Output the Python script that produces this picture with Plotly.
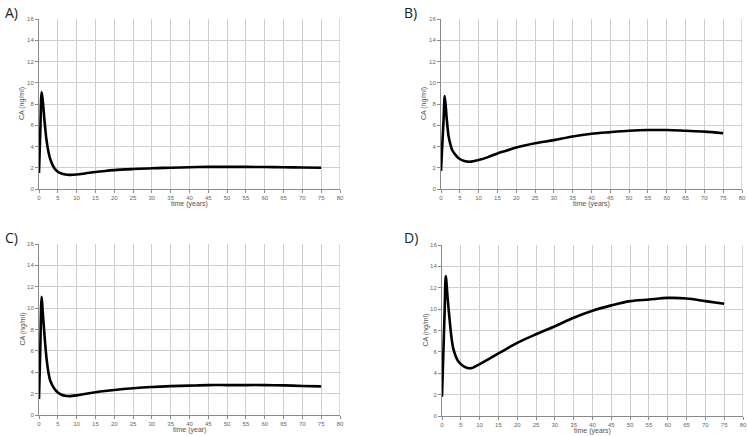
import plotly.graph_objects as go

t = [0, 0.35, 0.7, 1.0, 1.5, 2, 2.5, 3, 4, 5, 6, 7, 8, 10, 12.5, 15, 17.5, 20, 25, 30, 35, 40, 45, 50, 55, 60, 65, 70, 75]
ca_a = [1.5, 5.5, 9.1, 8.3, 6.3, 4.6, 3.5, 2.8, 2.0, 1.63, 1.45, 1.37, 1.33, 1.36, 1.48, 1.6, 1.7, 1.78, 1.88, 1.96, 2.0, 2.05, 2.08, 2.08, 2.08, 2.07, 2.05, 2.02, 2.0]
ca_b = [1.7, 4.2, 6.6, 8.75, 6.7, 5.0, 4.2, 3.65, 3.15, 2.82, 2.65, 2.58, 2.58, 2.72, 3.0, 3.35, 3.62, 3.9, 4.3, 4.6, 4.95, 5.2, 5.35, 5.48, 5.55, 5.55, 5.48, 5.4, 5.25]
ca_c = [1.5, 6.3, 11.05, 9.6, 7.3, 5.3, 4.0, 3.2, 2.5, 2.1, 1.9, 1.8, 1.77, 1.84, 1.98, 2.12, 2.24, 2.34, 2.5, 2.62, 2.7, 2.75, 2.8, 2.8, 2.8, 2.8, 2.77, 2.72, 2.68]
ca_d = [1.8, 5.8, 9.8, 13.1, 11.0, 9.1, 7.4, 6.3, 5.3, 4.85, 4.6, 4.47, 4.5, 4.85, 5.35, 5.85, 6.35, 6.85, 7.65, 8.4, 9.2, 9.85, 10.35, 10.75, 10.9, 11.05, 11.0, 10.75, 10.5]

x_ticks = list(range(0, 81, 5))
y_ticks = list(range(0, 17, 2))

panels = [
    ("A)", ca_a, "time (years)", [39, 340], [19, 189]),
    ("B)", ca_b, "time (years)", [441, 742], [19, 189]),
    ("C)", ca_c, "time (year)", [39, 340], [244, 415]),
    ("D)", ca_d, "time (years)", [442, 743], [245, 416]),
]

W, H = 748, 436
fig = go.Figure()
annotations = []
shapes = []
for i, (letter, vals, xlab, xs, ys) in enumerate(panels):
    n = "" if i == 0 else str(i + 1)
    xd = [xs[0] / W, xs[1] / W]
    yd = [1 - ys[1] / H, 1 - ys[0] / H]
    fig.add_trace(go.Scatter(x=t, y=vals, mode="lines",
                             line=dict(color="black", width=2.6, shape="spline", smoothing=0.9),
                             xaxis="x" + n, yaxis="y" + n, showlegend=False, hoverinfo="skip"))
    common = dict(showgrid=True, gridcolor="#cfcfcf", gridwidth=1, zeroline=False,
                  showline=True, linecolor="#8a8a8a", linewidth=1, ticks="outside",
                  ticklen=3, tickcolor="#8a8a8a", automargin=False,
                  tickfont=dict(size=6, color="#666", family="Liberation Sans"))
    fig.update_layout(**{
        "xaxis" + n: dict(domain=xd, range=[0, 80], tickvals=x_ticks, anchor="y" + n, **common),
        "yaxis" + n: dict(domain=yd, range=[0, 16], tickvals=y_ticks, anchor="x" + n, **common),
    })
    annotations.append(dict(text=xlab, x=(xs[0] + xs[1]) / 2 / W, y=1 - (ys[1] + 15) / H,
                            xref="paper", yref="paper", showarrow=False, xanchor="center",
                            yanchor="middle", font=dict(size=7, color="#555", family="Liberation Sans")))
    annotations.append(dict(text="CA (ng/ml)", x=(xs[0] - 17) / W, y=1 - (ys[0] + ys[1]) / 2 / H,
                            xref="paper", yref="paper", showarrow=False, textangle=-90,
                            xanchor="center", yanchor="middle",
                            font=dict(size=7, color="#555", family="Liberation Sans")))
    lx = 3 if xs[0] < 100 else 402
    annotations.append(dict(text=letter, x=lx / W, y=1 - (ys[0] - 7) / H, xref="paper", yref="paper",
                            showarrow=False, xanchor="left", yanchor="middle",
                            font=dict(size=14, color="#222", family="Open Sans")))
    shapes.append(dict(type="line", xref="x" + n, yref="y" + n,
                       x0=80, x1=80, y0=0, y1=16, line=dict(color="#b8b8b8", width=1)))

fig.update_layout(width=W, height=H, margin=dict(l=0, r=0, t=0, b=0, autoexpand=False),
                  plot_bgcolor="white", paper_bgcolor="white",
                  annotations=annotations, shapes=shapes)
fig.write_html("out.html", config={"displayModeBar": False},
               post_script="document.body.style.margin='0';document.body.style.padding='0';document.body.style.overflow='hidden';")
